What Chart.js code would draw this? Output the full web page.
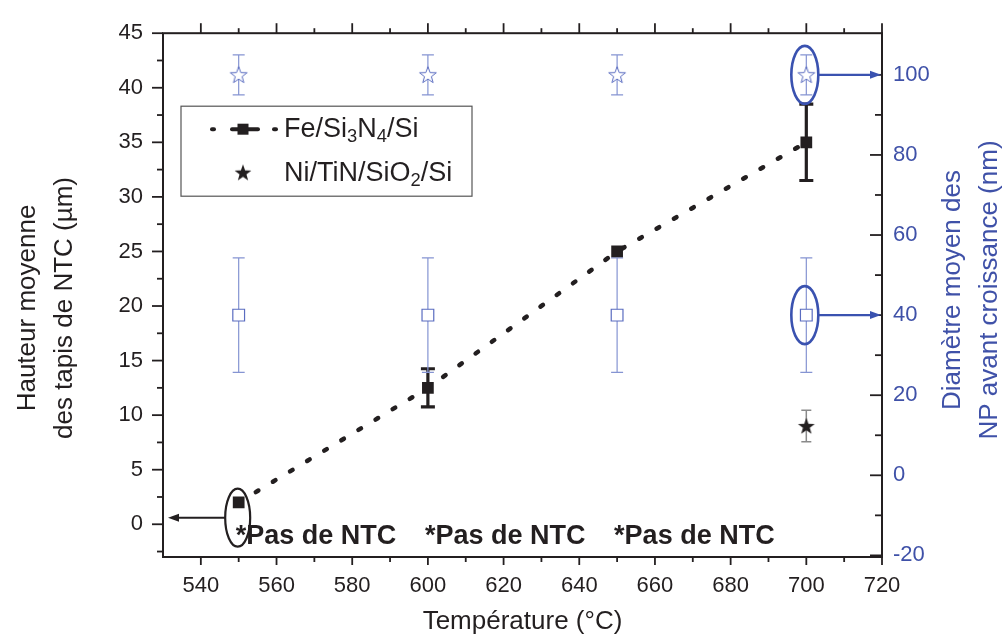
<!DOCTYPE html>
<html>
<head>
<meta charset="utf-8">
<script src="https://cdn.jsdelivr.net/npm/chart.js@4.4.1/dist/chart.umd.min.js"></script>
<style>
  html, body { margin: 0; padding: 0; background: #fff; }
  #wrap { width: 1006px; height: 637px; }
</style>
</head>
<body>
<div id="wrap"><canvas id="chart" width="1006" height="637"></canvas></div>
<script>
// values
const temps = [550, 600, 650, 700];
const heightFe = [2, 12.5, 25, 35];
const heightFeErr = [0, 1.75, 0, 3.5];
const niTemps = [700];
const heightNi = [9];
const heightNiErr = [1.45];
const diamStar = [100, 100, 100, 100];
const diamStarErr = [5, 5, 5, 5];
const diamSquare = [40, 40, 40, 40];
const diamSquareErr = [14.3, 14.3, 14.3, 14.3];
const noNtcTemps = [550, 600, 650];
const noNtcLabel = '*Pas de NTC';

const xTicks = [540, 560, 580, 600, 620, 640, 660, 680, 700, 720];
const leftTicks = [0, 5, 10, 15, 20, 25, 30, 35, 40, 45];
const rightTicks = [-20, 0, 20, 40, 60, 80, 100];

const FONT = 'Liberation Sans, Arial, sans-serif';
const INK = '#231f20';
const BLUE = '#3f51a8';
const BLUE_MARK = '#5a6cc0';
const BLUE_ERR = '#8594d2';

Chart.defaults.font.family = FONT;

// 5-point star used as point style
function makeStar(fill, stroke) {
  const c = document.createElement('canvas');
  c.width = 20; c.height = 20;
  const g = c.getContext('2d');
  g.beginPath();
  for (let i = 0; i < 10; i++) {
    const r = i % 2 === 0 ? 8.8 : 3.6;
    const a = -Math.PI / 2 + i * Math.PI / 5;
    const px = 10 + r * Math.cos(a), py = 10.6 + r * Math.sin(a);
    i === 0 ? g.moveTo(px, py) : g.lineTo(px, py);
  }
  g.closePath();
  if (fill) { g.fillStyle = fill; g.fill(); }
  if (stroke) { g.strokeStyle = stroke; g.lineWidth = 1; g.stroke(); }
  return c;
}
const openStar = makeStar('#ffffff', BLUE_MARK);
const blackStar = makeStar(INK, null);

const midpoints = (arr) => arr.slice(1).map((v, i) => (v + arr[i]) / 2);

const errorBars = {
  id: 'errorBars',
  beforeDatasetsDraw(chart) {
    const ctx = chart.ctx;
    chart.data.datasets.forEach((ds, di) => {
      if (!ds.errors) return;
      const meta = chart.getDatasetMeta(di);
      const scale = chart.scales[ds.yAxisID];
      ctx.save();
      ctx.strokeStyle = ds.errColor;
      ctx.lineWidth = ds.errWidth;
      ds.data.forEach((p, i) => {
        const e = ds.errors[i];
        if (!e) return;
        const px = meta.data[i].x;
        const top = scale.getPixelForValue(p.y + e);
        const bot = scale.getPixelForValue(p.y - e);
        ctx.beginPath();
        ctx.moveTo(px, top); ctx.lineTo(px, bot);
        ctx.moveTo(px - ds.errCap, top); ctx.lineTo(px + ds.errCap, top);
        ctx.moveTo(px - ds.errCap, bot); ctx.lineTo(px + ds.errCap, bot);
        ctx.stroke();
      });
      ctx.restore();
    });
  }
};

const frame = {
  id: 'frame',
  afterDatasetsDraw(chart) {
    const { ctx, chartArea: a, scales } = chart;
    const x = scales.x, yL = scales.yL, yR = scales.yR;
    ctx.save();
    ctx.strokeStyle = INK;
    ctx.lineWidth = 2;
    ctx.strokeRect(a.left, a.top, a.right - a.left, a.bottom - a.top);
    ctx.lineWidth = 1.8;
    const seg = (x1, y1, x2, y2) => { ctx.beginPath(); ctx.moveTo(x1, y1); ctx.lineTo(x2, y2); ctx.stroke(); };
    xTicks.forEach(v => {
      const p = x.getPixelForValue(v);
      seg(p, a.bottom, p, a.bottom + 8);
      seg(p, a.top, p, a.top - 10);
    });
    midpoints(xTicks).forEach(v => {
      const p = x.getPixelForValue(v);
      seg(p, a.bottom, p, a.bottom + 5);
      seg(p, a.top, p, a.top - 5);
    });
    leftTicks.forEach(v => { const p = yL.getPixelForValue(v); seg(a.left, p, a.left - 11, p); });
    midpoints([-5].concat(leftTicks)).forEach(v => { const p = yL.getPixelForValue(v); seg(a.left, p, a.left - 6, p); });
    rightTicks.forEach(v => { const p = yR.getPixelForValue(v); seg(a.right, p, a.right - 12, p); });
    midpoints(rightTicks).forEach(v => { const p = yR.getPixelForValue(v); seg(a.right, p, a.right - 7, p); });
    ctx.restore();
  }
};

function arrow(ctx, x1, y, x2, color, lw) {
  const dir = Math.sign(x2 - x1);
  ctx.strokeStyle = color; ctx.fillStyle = color; ctx.lineWidth = lw;
  ctx.beginPath(); ctx.moveTo(x1, y); ctx.lineTo(x2 - dir * 8, y); ctx.stroke();
  ctx.beginPath();
  ctx.moveTo(x2, y); ctx.lineTo(x2 - dir * 11, y - 4); ctx.lineTo(x2 - dir * 11, y + 4);
  ctx.closePath(); ctx.fill();
}

function ellipse(ctx, cx, cy, rx, ry, color, lw) {
  ctx.strokeStyle = color; ctx.lineWidth = lw;
  ctx.beginPath(); ctx.ellipse(cx, cy, rx, ry, 0, 0, Math.PI * 2); ctx.stroke();
}

// draws text with subscript parts: [text, isSub]
function richText(ctx, parts, x, y, size) {
  let cx = x;
  parts.forEach(([t, sub]) => {
    ctx.font = (sub ? size * 0.68 : size) + 'px ' + FONT;
    ctx.fillText(t, cx, sub ? y + size * 0.28 : y);
    cx += ctx.measureText(t).width;
  });
}

const annotations = {
  id: 'annotations',
  afterDatasetsDraw(chart) {
    const { ctx, chartArea: a, scales } = chart;
    const x = scales.x, yL = scales.yL, yR = scales.yR;
    ctx.save();

    // "no CNT" notes
    ctx.fillStyle = INK;
    ctx.font = 'bold 27px ' + FONT;
    ctx.textBaseline = 'alphabetic';
    noNtcTemps.forEach(t => ctx.fillText(noNtcLabel, x.getPixelForValue(t) - 3, yL.getPixelForValue(-1.8)));

    // black ellipse + arrow to left axis
    const ex = x.getPixelForValue(temps[0]) - 1;
    const ey = yL.getPixelForValue(0.6);
    ellipse(ctx, ex, ey, 12.5, 29, INK, 2.2);
    arrow(ctx, ex - 12.5, ey, a.left + 5, INK, 2);

    // blue ellipses + arrows to right axis
    const bx = x.getPixelForValue(temps[3]) - 1.5;
    [diamStar[3], diamSquare[3]].forEach(v => {
      const by = yR.getPixelForValue(v);
      ellipse(ctx, bx, by, 13.5, 29, '#3a52b0', 2.6);
      arrow(ctx, bx + 13.5, by, a.right - 1, '#3a52b0', 2.4);
    });

    // legend
    const lx = a.left + 18, ly = a.top + 73;
    ctx.strokeStyle = '#555';
    ctx.lineWidth = 1.2;
    ctx.strokeRect(lx, ly, 291, 90);
    const r1 = ly + 23, r2 = ly + 67;
    ctx.strokeStyle = INK; ctx.lineWidth = 4; ctx.lineCap = 'round';
    [[lx + 31, lx + 33], [lx + 51, lx + 77], [lx + 93, lx + 95]].forEach(([s, e]) => {
      ctx.beginPath(); ctx.moveTo(s, r1); ctx.lineTo(e, r1); ctx.stroke();
    });
    ctx.fillStyle = INK;
    ctx.fillRect(lx + 62 - 5.5, r1 - 5.5, 11, 11);
    ctx.drawImage(blackStar, lx + 62 - 10, r2 - 10.6);
    ctx.textBaseline = 'middle';
    richText(ctx, [['Fe/Si', 0], ['3', 1], ['N', 0], ['4', 1], ['/Si', 0]], lx + 103, r1, 27);
    richText(ctx, [['Ni/TiN/SiO', 0], ['2', 1], ['/Si', 0]], lx + 103, r2, 27);
    ctx.restore();
  },
  afterDraw(chart) {
    const { ctx, chartArea: a } = chart;
    ctx.save();
    ctx.textAlign = 'center';
    ctx.textBaseline = 'middle';
    ctx.font = '26px ' + FONT;
    ctx.fillStyle = INK;
    ctx.fillText('Température (°C)', (a.left + a.right) / 2, 622);
    const vText = (t, cx, cy, color) => {
      ctx.save(); ctx.translate(cx, cy); ctx.rotate(-Math.PI / 2);
      ctx.fillStyle = color; ctx.fillText(t, 0, 0); ctx.restore();
    };
    vText('Hauteur moyenne', 28, 308, INK);
    vText('des tapis de NTC (\u00b5m)', 65, 308, INK);
    vText('Diamètre moyen des', 953, 290, BLUE);
    vText('NP avant croissance (nm)', 990, 290, BLUE);
    ctx.restore();
  }
};

const setTicks = (list) => (s) => { s.ticks = list.map(v => ({ value: v })); };

new Chart(document.getElementById('chart'), {
  type: 'scatter',
  data: {
    datasets: [
      {
        label: 'Fe/Si3N4/Si',
        data: temps.map((t, i) => ({ x: t, y: heightFe[i] })),
        yAxisID: 'yL',
        showLine: true,
        borderColor: INK,
        borderWidth: 4.5,
        borderDash: [3, 17],
        borderCapStyle: 'round',
        pointStyle: 'rect',
        pointRadius: 8.3,
        pointBackgroundColor: INK,
        pointBorderColor: INK,
        pointBorderWidth: 0,
        errors: heightFeErr, errColor: INK, errWidth: 3.2, errCap: 7
      },
      {
        label: 'Ni/TiN/SiO2/Si',
        data: niTemps.map((t, i) => ({ x: t, y: heightNi[i] })),
        yAxisID: 'yL',
        pointStyle: blackStar,
        pointRadius: 8,
        errors: heightNiErr, errColor: '#8a8a8a', errWidth: 1.5, errCap: 5
      },
      {
        label: 'diam star',
        data: temps.map((t, i) => ({ x: t, y: diamStar[i] })),
        yAxisID: 'yR',
        pointStyle: openStar,
        pointRadius: 8,
        errors: diamStarErr, errColor: BLUE_ERR, errWidth: 1.2, errCap: 6
      },
      {
        label: 'diam square',
        data: temps.map((t, i) => ({ x: t, y: diamSquare[i] })),
        yAxisID: 'yR',
        pointStyle: 'rect',
        pointRadius: 8.3,
        pointBackgroundColor: '#ffffff',
        pointBorderColor: BLUE_MARK,
        pointBorderWidth: 1.2,
        errors: diamSquareErr, errColor: BLUE_ERR, errWidth: 1.2, errCap: 6
      }
    ]
  },
  options: {
    responsive: false,
    animation: false,
    layout: { padding: { top: 25, left: 0, right: 0, bottom: 0 } },
    plugins: { legend: { display: false }, tooltip: { enabled: false } },
    scales: {
      x: {
        type: 'linear', min: 530, max: 720,
        afterBuildTicks: setTicks(xTicks),
        afterFit: (s) => { s.height = 80; },
        grid: { display: false, drawTicks: false },
        border: { display: false },
        ticks: { color: INK, font: { size: 22 }, padding: 16, maxRotation: 0 }
      },
      yL: {
        type: 'linear', position: 'left', min: -3, max: 45,
        afterBuildTicks: setTicks(leftTicks),
        afterFit: (s) => { s.width = 163; },
        grid: { display: false, drawTicks: false },
        border: { display: false },
        ticks: { color: INK, font: { size: 22 }, padding: 20 }
      },
      yR: {
        type: 'linear', position: 'right', min: -20.4, max: 110.4,
        afterBuildTicks: setTicks(rightTicks),
        afterFit: (s) => { s.width = 124; },
        grid: { display: false, drawTicks: false },
        border: { display: false },
        ticks: { color: BLUE, font: { size: 22 }, padding: 11 }
      }
    }
  },
  plugins: [errorBars, frame, annotations]
});
</script>
</body>
</html>
